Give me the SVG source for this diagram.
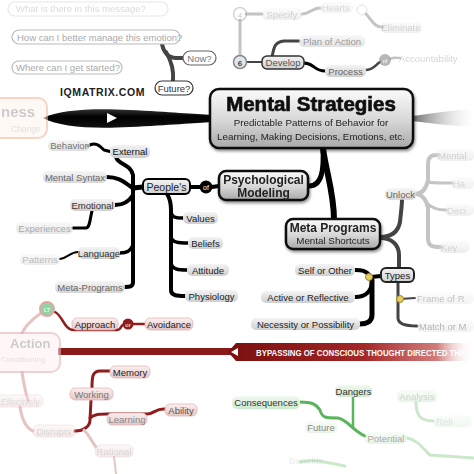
<svg xmlns="http://www.w3.org/2000/svg" width="474" height="474" viewBox="0 0 474 474">
<defs>
<linearGradient id="boxG" x1="0" y1="0" x2="0" y2="1"><stop offset="0" stop-color="#fbfbfb"/><stop offset="0.55" stop-color="#d6d6d6"/><stop offset="1" stop-color="#a9a9a9"/></linearGradient>
<linearGradient id="pillG" x1="0" y1="0" x2="0" y2="1"><stop offset="0" stop-color="#f4f4f4"/><stop offset="1" stop-color="#cfcfcf"/></linearGradient>
<linearGradient id="redPill" x1="0" y1="0" x2="0" y2="1"><stop offset="0" stop-color="#fbf1f1"/><stop offset="1" stop-color="#e6c4c4"/></linearGradient>
<linearGradient id="greenPill" x1="0" y1="0" x2="0" y2="1"><stop offset="0" stop-color="#f1faf1"/><stop offset="1" stop-color="#cde8cd"/></linearGradient>
<linearGradient id="bandG" x1="0" y1="0" x2="1" y2="0"><stop offset="0" stop-color="#7a0f0f"/><stop offset="0.55" stop-color="#a32626"/><stop offset="0.85" stop-color="#c65a5a" stop-opacity="0.8"/><stop offset="1" stop-color="#ffffff" stop-opacity="0"/></linearGradient>
<linearGradient id="greyArrow" x1="0" y1="0" x2="1" y2="0"><stop offset="0" stop-color="#6a6a6a"/><stop offset="1" stop-color="#ffffff" stop-opacity="0.2"/></linearGradient>
<linearGradient id="blackArrow" x1="0" y1="0" x2="0" y2="1"><stop offset="0" stop-color="#333"/><stop offset="0.4" stop-color="#000"/><stop offset="1" stop-color="#111"/></linearGradient>
<filter id="sh" x="-10%" y="-10%" width="130%" height="140%"><feGaussianBlur in="SourceAlpha" stdDeviation="1.5"/><feOffset dx="1" dy="2"/><feComponentTransfer><feFuncA type="linear" slope="0.45"/></feComponentTransfer><feMerge><feMergeNode/><feMergeNode in="SourceGraphic"/></feMerge></filter>
</defs>
<style>
text{font-family:"Liberation Sans",Arial,sans-serif;font-size:9.5px}
.pill{fill:url(#pillG);stroke:none}
.rp{fill:url(#redPill);stroke:#e2b6b6;stroke-width:0.8}
.gp{fill:url(#greenPill);stroke:none}
.q{fill:#fff;stroke:#bbb;stroke-width:1.2}
.box{fill:url(#boxG);stroke:#111;stroke-width:2.5}
.blk{fill:none;stroke:#000;stroke-linecap:round;stroke-linejoin:round}
.gry{fill:none;stroke:#444;stroke-linecap:round}
.lg{fill:none;stroke:#c4c4c4;stroke-linecap:round}
.red{fill:none;stroke:#8e1d1d;stroke-linecap:round}
.pink{fill:none;stroke:#e7c3c3;stroke-linecap:round}
.grn{fill:none;stroke:#5ab55a;stroke-linecap:round}
.lgrn{fill:none;stroke:#cbe8cb;stroke-linecap:round}
.b{font-weight:bold}
.c{text-anchor:middle}
</style>
<rect width="474" height="474" fill="#fff"/>
<g fill="#222">
<g id="connectors">
<path class="gry" stroke="#999" stroke-width="4" d="M162,44 C164,54 170,58 176,58 L183,58"/>
<path class="gry" stroke="#999" stroke-width="4" d="M166,52 C172,62 174,70 173,81"/>
<path class="lg" stroke-width="3" d="M240,20 L240,56"/>
<path class="lg" stroke-width="3" d="M246,14 L262,14"/>
<path class="lg" stroke-width="3" d="M302,14 C310,14 312,8 320,8"/>
<path class="lg" stroke-width="3" d="M366,14 C372,20 374,27 382,27"/>
<path class="gry" stroke="#888" stroke-width="3" d="M272,57 C274,48 274,42 284,41 L299,41"/>
<path class="gry" stroke-width="2" d="M247,62 L262,62"/>
<path class="blk" stroke-width="3" d="M304,63 C314,63 314,71 325,71"/>
<path class="gry" stroke="#777" stroke-width="2.5" d="M365,70 C374,70 376,64 380,62"/>
<path class="lg" stroke-width="2.5" d="M390,59 C394,57 397,58 400,58"/>
<path fill="url(#blackArrow)" d="M43,118 C60,110 90,108 130,110 C170,112 195,114 212,115 L212,122 C195,123 170,125 130,127 C90,129 60,127 43,118 Z"/>
<polygon points="107,113 117,118 107,123" fill="#fff"/>
<path fill="url(#greyArrow)" d="M412,116 C435,113 455,110 474,109 L474,127 C455,126 435,124 412,121 Z"/>
<path class="blk" stroke-width="5" d="M323,148 C324,170 322,186 309,186"/>
<path class="blk" stroke-width="6" d="M323,148 C326,172 334,192 334,220"/>
<path class="blk" stroke-width="4" d="M190,187 L200,187"/>
<path class="blk" stroke-width="4" d="M212,187 L219,186"/>
<path class="blk" stroke-width="3" d="M88,146 C95,141 100,146 104,150 L112,152"/>
<path class="blk" stroke-width="4" d="M116,157 C118,165 130,163 133,175 L133,282 C133,287 129,287 125,287"/>
<path class="blk" stroke-width="4" d="M107,177 C120,177 125,183 133,188"/>
<path class="blk" stroke-width="5" d="M143,187 L133,188"/>
<path class="blk" stroke-width="4" d="M115,205 C125,205 130,200 133,195"/>
<path class="blk" stroke-width="3.5" d="M120,253 C128,253 131,250 133,245"/>
<path class="blk" stroke-width="3" d="M73,228 L86,228 C90,228 90,218 92,211"/>
<path class="blk" stroke-width="2" d="M60,259 C68,258 70,252 78,252"/>
<path class="blk" stroke-width="4" d="M167,194 C171,200 171,205 171,210 L171,290 C171,296 178,296 185,296"/>
<path class="blk" stroke-width="3.5" d="M171,210 C171,218 176,218 183,218"/>
<path class="blk" stroke-width="3.5" d="M171,236 C171,243 180,243 188,243"/>
<path class="blk" stroke-width="3.5" d="M171,262 C171,270 180,270 187,270"/>
<path class="gry" stroke="#333" stroke-width="4" d="M380,237 C392,237 398,232 400,222 C401,212 402,205 402,200"/>
<path class="gry" stroke="#333" stroke-width="4" d="M380,238 C392,238 399,245 399,255 L399,268"/>
<path class="blk" stroke-width="4" d="M381,276 L371,277"/>
<path class="blk" stroke-width="4" d="M371,277 C366,270 361,270 355,270"/>
<path class="blk" stroke-width="4" d="M372,280 C372,292 365,297 355,297"/>
<path class="blk" stroke-width="5" d="M372,280 L372,315 C372,322 366,324 360,324"/>
<path class="gry" stroke="#555" stroke-width="3" d="M398,282 L398,318 C398,324 405,326 417,326"/>
<path class="gry" stroke="#777" stroke-width="2" d="M400,299 L415,298"/>
<path class="lg" stroke-width="4" d="M415,194 C422,194 426,190 428,180 L428,165 C428,156 432,155 437,155"/>
<path class="lg" stroke-width="4" d="M415,194 C422,194 426,198 428,208 L428,238 C428,246 432,247 440,247"/>
<path class="lg" stroke-width="3" d="M428,182 C432,183 440,183 452,183"/>
<path class="lg" stroke-width="3" d="M428,204 C432,208 438,210 446,210"/>
<rect x="58" y="348" width="178" height="7" fill="#8a1a1a"/>
<path fill="url(#bandG)" d="M228,352 L236,343 L474,343 L474,361 L236,361 Z"/>
<polygon points="231,352 238,348 238,356" fill="#fff"/>
<path class="pink" stroke-width="3" d="M41,313 C34,318 26,324 22,333"/>
<path class="red" stroke-width="2.5" d="M55,312 C63,316 64,330 74,330 L117,330 C121,330 121,325 123,325"/>
<path class="red" stroke-width="2.5" d="M133,324 L145,324"/>
<path class="red" stroke="#b54848" stroke-width="3" d="M92,388 C92,378 92,371 100,371 L110,371"/>
<path class="red" stroke="#c66a6a" stroke-width="3" d="M91,400 L90,420 C90,426 84,431 75,431"/>
<path class="red" stroke="#c66a6a" stroke-width="3" d="M90,418 C94,414 100,414 107,414 L147,414 C154,414 156,408 165,409"/>
<path class="pink" stroke-width="3" d="M84,430 C90,436 92,442 96,447"/>
<path class="pink" stroke="#f0dada" stroke-width="3" d="M22,372 C24,385 25,392 28,400"/>
<path class="pink" stroke="#f0dada" stroke-width="3" d="M20,407 C22,420 26,428 33,431"/>
<path class="pink" stroke="#f3e3e3" stroke-width="2" d="M114,457 L116,474"/>
<path class="grn" stroke-width="3" d="M300,402 C312,402 316,404 320,410 C322,418 326,418 338,418 C348,420 352,430 365,436"/>
<path class="grn" stroke-width="2.5" d="M353,397 L353,428"/>
<path class="lgrn" stroke-width="3" d="M407,438 C418,440 422,448 430,455 L474,458"/>
<path class="lgrn" stroke-width="3" d="M416,402 C416,415 420,421 433,421"/>
<path class="lgrn" stroke="#e2f2e2" stroke-width="3" d="M300,462 C320,458 330,464 345,466"/>
</g>

<g id="q-message" opacity="0.35"><rect class="q" x="8" y="2" width="160" height="14" rx="7"/><text x="16" y="12" fill="#999">What is there in this message?</text></g>
<g id="q-emotion"><rect class="q" x="12" y="30" width="168" height="14" rx="7"/><text x="17" y="40.5" fill="#aaa">How can I better manage this emotion?</text></g>
<g id="q-started"><rect class="q" x="12" y="61" width="110" height="13" rx="6.5"/><text x="16" y="71" fill="#aaa">Where can I get started?</text></g>
<g id="q-now"><rect class="q" x="183" y="51" width="33" height="14" rx="7" style="stroke:#666"/><text class="c" x="199.5" y="61.5" fill="#777">Now?</text></g>
<g id="q-future"><rect class="q" x="155" y="81" width="38" height="14" rx="7" style="stroke:#333"/><text class="c" x="174" y="91.5" fill="#333">Future?</text></g>
<g id="brand"><text x="60" y="96" class="b" style="font-size:10.5px;letter-spacing:0.6px;fill:#222;stroke:#fff;stroke-width:2;paint-order:stroke">IQMATRIX.COM</text></g>

<g id="n4" opacity="0.35"><circle cx="240" cy="14" r="6.5" fill="#fff" stroke="#888" stroke-width="1.5"/><text class="c b" x="240" y="17.5" style="font-size:8px" fill="#888">4</text></g>
<g id="specify" opacity="0.3"><rect class="pill" x="262" y="8" width="40" height="12" rx="5"/><text class="c" x="282" y="17.5" fill="#666">Specify</text></g>
<g id="hearts" opacity="0.25"><rect class="pill" x="319" y="2" width="34" height="11" rx="5"/><text class="c" x="336" y="11" fill="#666">Hearts</text><circle cx="362" cy="10" r="5" fill="#fff" stroke="#888"/></g>
<g id="eliminate" opacity="0.3"><rect class="pill" x="380" y="22" width="42" height="11" rx="5"/><text class="c" x="401" y="31" fill="#666">Eliminate</text></g>
<g id="plan"><rect class="pill" x="299" y="35" width="66" height="12" rx="5" opacity="0.6"/><text class="c" x="332" y="44.5" fill="#999">Plan of Action</text></g>
<g id="n6"><circle cx="240" cy="62" r="6.5" fill="#dfe7f2" stroke="#888" stroke-width="1.5"/><text class="c b" x="240" y="65.5" style="font-size:8px" fill="#445">6</text></g>
<g id="develop"><rect x="262" y="56" width="42" height="13" rx="5" fill="url(#pillG)" stroke="#333" stroke-width="1.5"/><text class="c" x="283" y="66" fill="#555">Develop</text></g>
<g id="process"><rect class="pill" x="325" y="65" width="41" height="12" rx="5"/><text class="c" x="345.5" y="74.5" fill="#666">Process</text></g>
<g id="of-top" opacity="0.7"><circle cx="385" cy="60" r="6" fill="#999"/><text class="c" x="385" y="62.5" style="font-size:6px" fill="#fff">of</text></g>
<g id="accountability" opacity="0.35"><text x="399" y="62" fill="#888">Accountability</text></g>

<g id="ness" opacity="0.6"><rect x="-20" y="98" width="67" height="40" rx="9" fill="#fff6f1" stroke="#f2b89c" stroke-width="2"/><text x="1" y="117" class="b" style="font-size:15px" fill="#aaa">ness</text><text x="11" y="132" style="font-size:8.5px" fill="#ccc">Change</text></g>

<g id="mental-strategies" filter="url(#sh)"><rect class="box" x="210" y="89" width="203" height="59" rx="9"/>
<text class="c b" x="311" y="111" style="font-size:20.5px;stroke:#111;stroke-width:0.7" fill="#111">Mental Strategies</text>
<text class="c" x="311" y="126" style="font-size:9.8px">Predictable Patterns of Behavior for</text>
<text class="c" x="311" y="140" style="font-size:9.8px">Learning, Making Decisions, Emotions, etc.</text></g>

<g id="psych" filter="url(#sh)"><rect class="box" x="219" y="171" width="89" height="29" rx="7"/><text class="c b" x="263.5" y="184" style="font-size:12px">Psychological</text><text class="c b" x="263.5" y="196.5" style="font-size:12px">Modeling</text></g>
<g id="of-mid"><circle cx="206" cy="187" r="6.5" fill="#000"/><text class="c" x="206" y="189.5" style="font-size:7px" fill="#fff">of</text></g>
<g id="peoples"><rect x="143" y="179" width="47" height="15" rx="5" fill="url(#pillG)" stroke="#000" stroke-width="2"/><text class="c" x="166.5" y="190.5" style="font-size:10.5px">People's</text></g>

<g id="external"><rect class="pill" x="110" y="145" width="40" height="13" rx="5"/><text class="c" x="130" y="155" fill="#111">External</text></g>
<g id="behavior"><rect class="pill" x="48" y="140" width="42" height="11" rx="5" opacity="0.7"/><text class="c" x="69" y="149" fill="#777">Behavior</text></g>
<g id="mental-syntax"><rect class="pill" x="43" y="171" width="64" height="12" rx="5" opacity="0.8"/><text class="c" x="75" y="180.5" fill="#666">Mental Syntax</text></g>
<g id="emotional"><rect class="pill" x="70" y="199" width="45" height="12" rx="5"/><text class="c" x="92.5" y="208.5" fill="#333">Emotional</text></g>
<g id="experiences"><rect class="pill" x="16" y="222" width="57" height="12" rx="5" opacity="0.5"/><text class="c" x="44.5" y="231.5" fill="#aaa">Experiences</text></g>
<g id="language"><rect class="pill" x="78" y="247" width="42" height="12" rx="5"/><text class="c" x="99" y="256.5" fill="#333">Language</text></g>
<g id="patterns"><rect class="pill" x="20" y="254" width="40" height="11" rx="5" opacity="0.4"/><text class="c" x="40" y="263" fill="#bbb">Patterns</text></g>
<g id="meta-programs-l"><rect class="pill" x="55" y="281" width="70" height="12" rx="5" opacity="0.85"/><text class="c" x="90" y="290.5" fill="#666">Meta-Programs</text></g>

<g id="values"><rect class="pill" x="183" y="212" width="35" height="12" rx="5"/><text class="c" x="200.5" y="221.5">Values</text></g>
<g id="beliefs"><rect class="pill" x="188" y="237" width="35" height="12" rx="5"/><text class="c" x="205.5" y="246.5">Beliefs</text></g>
<g id="attitude"><rect class="pill" x="187" y="264" width="42" height="12" rx="5"/><text class="c" x="208" y="273.5">Attitude</text></g>
<g id="physiology"><rect class="pill" x="185" y="290" width="53" height="12" rx="5"/><text class="c" x="211.5" y="299.5">Physiology</text></g>

<g id="meta-programs" filter="url(#sh)"><rect class="box" x="286" y="219" width="94" height="30" rx="7"/><text class="c b" x="333" y="231.5" style="font-size:12px">Meta Programs</text><text class="c" x="333" y="244" style="font-size:9.8px">Mental Shortcuts</text></g>

<g id="unlock"><rect class="pill" x="385" y="188" width="31" height="12" rx="5" opacity="0.8"/><text class="c" x="400.5" y="197.5" fill="#666">Unlock</text></g>
<g id="types"><rect x="381" y="268" width="33" height="14" rx="5" fill="url(#pillG)" stroke="#222" stroke-width="2"/><text class="c" x="397.5" y="278.5">Types</text></g>
<g id="dot1"><circle cx="369" cy="277" r="3.5" fill="#e6cf62" stroke="#9c8420" stroke-width="1"/></g>
<g id="dot2"><circle cx="400" cy="299" r="3.5" fill="#e6cf62" stroke="#9c8420" stroke-width="1"/></g>
<g id="self-other"><rect class="pill" x="295" y="264" width="60" height="12" rx="5"/><text class="c" x="325" y="273.5">Self or Other</text></g>
<g id="active-reflective"><rect class="pill" x="261" y="291" width="94" height="12" rx="5"/><text class="c" x="308" y="300.5">Active or Reflective</text></g>
<g id="necessity"><rect class="pill" x="251" y="318" width="109" height="12" rx="5"/><text class="c" x="305.5" y="327.5">Necessity or Possibility</text></g>
<g id="frame" opacity="0.5"><rect class="pill" x="415" y="292" width="59" height="12" rx="5" opacity="0.5"/><text x="417" y="301.5" fill="#888">Frame of R</text></g>
<g id="match" opacity="0.55"><rect class="pill" x="417" y="320" width="57" height="12" rx="5" opacity="0.5"/><text x="419" y="329.5" fill="#777">Match or M</text></g>
<g id="u-mental" opacity="0.35"><rect class="pill" x="436" y="149" width="38" height="12" rx="5"/><text x="438" y="158.5" fill="#777">Mental</text></g>
<g id="u-habits" opacity="0.3"><rect class="pill" x="451" y="177" width="23" height="12" rx="5"/><text x="453" y="186.5" fill="#777">Ha</text></g>
<g id="u-decisions" opacity="0.3"><rect class="pill" x="445" y="204" width="29" height="12" rx="5"/><text x="447" y="213.5" fill="#777">Deci</text></g>
<g id="u-key" opacity="0.35"><rect class="pill" x="439" y="241" width="30" height="12" rx="5"/><text x="441" y="250.5" fill="#777">Key</text></g>

<g id="action" opacity="0.6"><rect x="-20" y="333" width="80" height="39" rx="9" fill="#fff3f3" stroke="#e6b3b3" stroke-width="2"/><text x="10" y="348" class="b" style="font-size:13px" fill="#aaa">Action</text><text x="1" y="362" style="font-size:8px" fill="#ccc">Conditioning</text></g>
<g id="band-text"><text transform="translate(256,356) scale(0.8,1)" x="0" y="0" class="b" style="font-size:9.5px;fill:#fff" textLength="262" lengthAdjust="spacingAndGlyphs">BYPASSING OF CONSCIOUS THOUGHT DIRECTED THR</text></g>
<g id="lt"><circle cx="47" cy="309" r="7" fill="#8fd3a2" stroke="#e3a6a6" stroke-width="2"/><text class="c" x="47" y="311.5" style="font-size:6px" fill="#fff">LT</text></g>
<g id="approach"><rect class="rp" x="72" y="318" width="46" height="12" rx="5"/><text class="c" x="95" y="327.5">Approach</text></g>
<g id="or"><circle cx="128" cy="324" r="5.5" fill="#8e1d1d"/><text class="c" x="128" y="326.5" style="font-size:6px" fill="#fff">or</text></g>
<g id="avoidance"><rect class="rp" x="145" y="318" width="48" height="12" rx="5"/><text class="c" x="169" y="327.5">Avoidance</text></g>
<g id="memory"><rect class="rp" x="110" y="366" width="40" height="12" rx="5"/><text class="c" x="130" y="375.5">Memory</text></g>
<g id="working"><rect class="rp" x="70" y="388" width="43" height="12" rx="5"/><text class="c" x="91.5" y="397.5" fill="#777">Working</text></g>
<g id="learning"><rect class="rp" x="107" y="413" width="40" height="12" rx="5"/><text class="c" x="127" y="422.5" fill="#888">Learning</text></g>
<g id="ability"><rect class="rp" x="165" y="404" width="32" height="12" rx="5"/><text class="c" x="181" y="413.5" fill="#555">Ability</text></g>
<g id="effectively" opacity="0.35"><rect class="rp" x="-6" y="395" width="49" height="12" rx="5"/><text x="1" y="404.5" fill="#999" style="font-size:8.5px">Effectively</text></g>
<g id="disrupts" opacity="0.4"><rect class="rp" x="33" y="425" width="42" height="12" rx="5"/><text class="c" x="54" y="434.5" fill="#999">Disrupts</text></g>
<g id="rational" opacity="0.4"><rect class="rp" x="95" y="445" width="38" height="12" rx="5"/><text class="c" x="114" y="454.5" fill="#999">Rational</text></g>

<g id="consequences"><rect class="gp" x="232" y="396" width="68" height="13" rx="5"/><text class="c" x="266" y="406" fill="#333">Consequences</text></g>
<g id="dangers"><rect class="gp" x="335" y="385" width="37" height="12" rx="5"/><text class="c" x="353.5" y="394.5" fill="#333">Dangers</text></g>
<g id="future"><rect class="gp" x="305" y="421" width="32" height="12" rx="5" opacity="0.5"/><text class="c" x="321" y="430.5" fill="#888">Future</text></g>
<g id="potential"><rect class="gp" x="365" y="432" width="42" height="12" rx="5" opacity="0.5"/><text class="c" x="386" y="441.5" fill="#aaa">Potential</text></g>
<g id="analysis" opacity="0.45"><rect class="gp" x="397" y="390" width="40" height="12" rx="5"/><text class="c" x="417" y="399.5" fill="#999">Analysis</text></g>
<g id="reti" opacity="0.3"><rect class="gp" x="433" y="415" width="38" height="12" rx="5"/><text x="436" y="424.5" fill="#999">Reti</text></g>
<g id="benefits" opacity="0.2"><text x="289" y="464" fill="#999">Benefits</text></g>
</g>
</svg>
